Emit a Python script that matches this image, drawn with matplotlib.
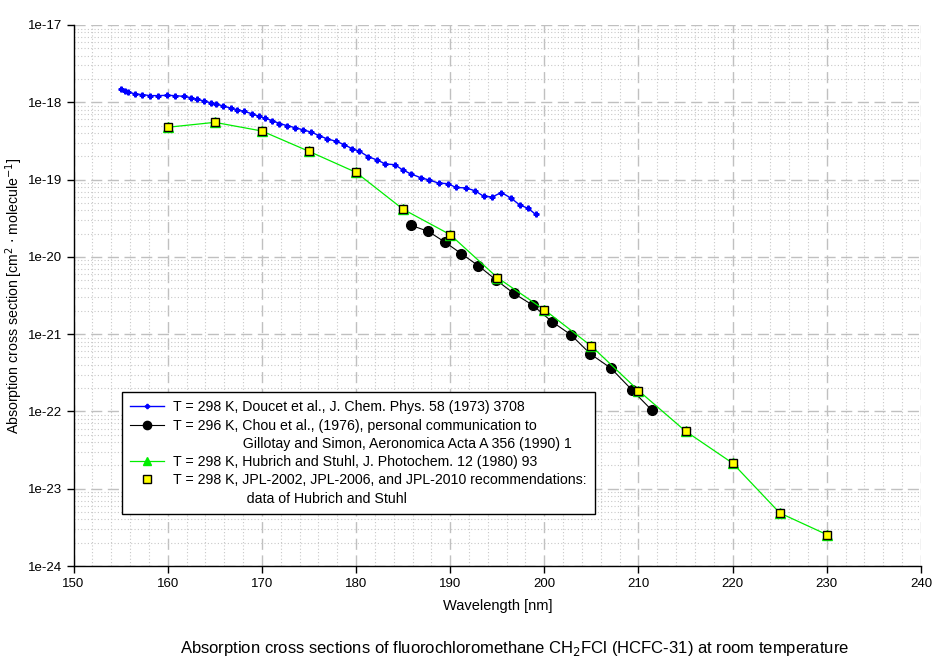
import numpy as np
import matplotlib.pyplot as plt
from matplotlib.lines import Line2D
from matplotlib.ticker import LogLocator, MultipleLocator, NullFormatter

plt.rcParams['font.family'] = ['Liberation Sans', 'DejaVu Sans']
plt.rcParams['font.size'] = 9

# Doucet et al. 1973
wl_doucet = [155.04, 155.47, 155.82, 156.57, 157.24, 158.13, 159.01, 159.90, 160.82, 161.70,
             162.48, 163.12, 163.90, 164.61, 165.14, 165.92, 166.70, 167.41, 168.15, 168.97,
             169.67, 170.31, 171.13, 171.87, 172.68, 173.50, 174.39, 175.27, 176.09, 176.97,
             177.89, 178.74, 179.59, 180.37, 181.29, 182.25, 183.13, 184.09, 184.98, 185.86,
             186.85, 187.74, 188.77, 189.76, 190.61, 191.67, 192.59, 193.55, 194.47, 195.43,
             196.42, 197.38, 198.26, 199.08]
xs_doucet = [1.47e-18, 1.41e-18, 1.36e-18, 1.28e-18, 1.26e-18, 1.22e-18, 1.22e-18, 1.23e-18, 1.22e-18, 1.19e-18,
             1.15e-18, 1.09e-18, 1.04e-18, 9.8e-19, 9.5e-19, 8.95e-19, 8.4e-19, 8.0e-19, 7.6e-19, 7.1e-19,
             6.6e-19, 6.2e-19, 5.8e-19, 5.3e-19, 5.0e-19, 4.7e-19, 4.4e-19, 4.1e-19, 3.7e-19, 3.35e-19,
             3.13e-19, 2.83e-19, 2.51e-19, 2.32e-19, 1.98e-19, 1.79e-19, 1.59e-19, 1.56e-19, 1.33e-19, 1.18e-19,
             1.06e-19, 9.9e-20, 9.0e-20, 8.85e-20, 7.9e-20, 7.8e-20, 7.2e-20, 6.1e-20, 5.95e-20, 6.8e-20,
             5.8e-20, 4.7e-20, 4.25e-20, 3.55e-20]

# Chou et al. 1976
wl_chou = [185.83, 187.67, 189.48, 191.18, 192.98, 194.90, 196.74, 198.79, 200.81, 202.83,
           204.89, 207.08, 209.30, 211.44]
xs_chou = [2.56e-20, 2.14e-20, 1.54e-20, 1.10e-20, 7.7e-21, 5.0e-21, 3.38e-21, 2.36e-21, 1.45e-21, 9.8e-22,
           5.55e-22, 3.62e-22, 1.9e-22, 1.03e-22]

# Hubrich and Stuhl 1980 (also JPL recommendations)
wl_hubrich = [160, 165, 170, 175, 180, 185, 190, 195, 200, 205, 210, 215, 220, 225, 230]
xs_hubrich = [4.75e-19, 5.5e-19, 4.25e-19, 2.32e-19, 1.24e-19, 4.13e-20, 1.94e-20, 5.4e-21, 2.07e-21,
              7.0e-22, 1.86e-22, 5.55e-23, 2.14e-23, 4.86e-24, 2.55e-24]

y_ticks = [1e-24, 1e-23, 1e-22, 1e-21, 1e-20, 1e-19, 1e-18, 1e-17]
y_tick_labels = ['1e-24', '1e-23', '1e-22', '1e-21', '1e-20', '1e-19', '1e-18', '1e-17']

labels = [
    'T = 298 K, Doucet et al., J. Chem. Phys. 58 (1973) 3708',
    'T = 296 K, Chou et al., (1976), personal communication to',
    '                  Gillotay and Simon, Aeronomica Acta A 356 (1990) 1',
    'T = 298 K, Hubrich and Stuhl, J. Photochem. 12 (1980) 93',
    'T = 298 K, JPL-2002, JPL-2006, and JPL-2010 recommendations:',
    '                   data of Hubrich and Stuhl',
]

fig = plt.figure(figsize=(9.44, 6.70), dpi=100)
ax = fig.add_axes([0.0779, 0.1552, 0.8977, 0.8075])

h_doucet, = ax.plot(wl_doucet, xs_doucet, color='#0000ff', lw=1.0, marker='P', ms=3.5, zorder=3)
h_chou, = ax.plot(wl_chou, xs_chou, color='black', lw=0.8, marker='o', ms=7, zorder=3)
h_hub, = ax.plot(wl_hubrich, xs_hubrich, color='#00ee00', lw=0.9, marker='^', ms=7, zorder=4)
h_jpl, = ax.plot(wl_hubrich, xs_hubrich, ls='none', marker='s', ms=6, mfc='#ffff00',
                 mec='black', mew=1.0, zorder=5)
blank = Line2D([], [], ls='none')

ax.set_yscale('log')
ax.set_xlim(150, 240)
ax.set_ylim(1e-24, 1e-17)
ax.xaxis.set_major_locator(MultipleLocator(10))
ax.xaxis.set_minor_locator(MultipleLocator(2))
ax.set_yticks(y_ticks)
ax.set_yticklabels(y_tick_labels)
ax.yaxis.set_minor_locator(LogLocator(base=10, subs=np.arange(2, 10), numticks=20))
ax.yaxis.set_minor_formatter(NullFormatter())

ax.grid(True, which='major', color='#c0c0c0', ls=(0, (8, 4)), lw=1.0)
ax.grid(True, which='minor', color='#c8c8c8', ls=(0, (1, 2)), lw=0.8)
ax.set_axisbelow(True)

for side in ['top', 'right']:
    ax.spines[side].set_visible(False)
ax.spines['left'].set_linewidth(1.0)
ax.spines['bottom'].set_linewidth(1.0)
ax.tick_params(which='major', direction='out', length=5, width=1.0, labelsize=9.5)
ax.tick_params(which='minor', length=0)

ax.set_xlabel('Wavelength [nm]', fontsize=10.5)
ax.xaxis.set_label_coords(0.5, -0.061)
ax.set_ylabel('Absorption cross section [cm$^2$ $\\cdot$ molecule$^{-1}$]', fontsize=10.2, va='center')
ax.yaxis.set_label_coords(-0.070, 0.5)

leg = ax.legend([h_doucet, h_chou, blank, h_hub, h_jpl, blank], labels,
                loc='lower left', bbox_to_anchor=(0.057, 0.096), borderaxespad=0,
                fontsize=10.2, frameon=True, fancybox=False, framealpha=1, edgecolor='black',
                handlelength=2.4, handletextpad=0.6, labelspacing=0.3, borderpad=0.6,
                markerscale=0.85)
leg.get_frame().set_linewidth(1.0)

fig.text(0.545, 0.032, 'Absorption cross sections of fluorochloromethane CH$_2$FCl (HCFC-31) at room temperature',
         ha='center', va='center', fontsize=12)

fig.savefig('out.png', dpi=100)
